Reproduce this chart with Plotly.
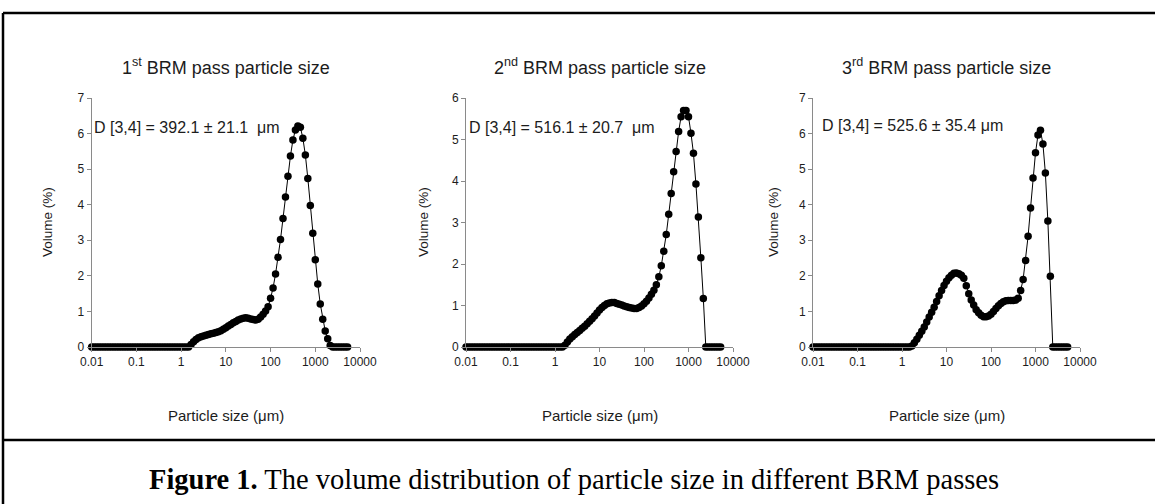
import plotly.graph_objects as go

# ---------------- data ----------------
SIZES_UM = [
    0.01, 0.01137, 0.01292, 0.01468, 0.01668, 0.01896, 0.02154, 0.02448, 0.02783, 0.03162,
    0.03594, 0.04084, 0.04642, 0.05275, 0.05995, 0.06813, 0.07743, 0.08799,
    0.1, 0.1137, 0.1292, 0.1468, 0.1668, 0.1896, 0.2154, 0.2448, 0.2783, 0.3162,
    0.3594, 0.4084, 0.4642, 0.5275, 0.5995, 0.6813, 0.7743, 0.8799,
    1.0, 1.137, 1.292, 1.468, 1.668, 1.896, 2.154, 2.448, 2.783, 3.162,
    3.594, 4.084, 4.642, 5.275, 5.995, 6.813, 7.743, 8.799,
    10.0, 11.37, 12.92, 14.68, 16.68, 18.96, 21.54, 24.48, 27.83, 31.62,
    35.94, 40.84, 46.42, 52.75, 59.95, 68.13, 77.43, 87.99,
    100, 113.7, 129.2, 146.8, 166.8, 189.6, 215.4, 244.8, 278.3, 316.2,
    359.4, 408.4, 464.2, 527.5, 599.5, 681.3, 774.3, 879.9,
    1000, 1137, 1292, 1468, 1668, 1896, 2154, 2448, 2783, 3162,
    3594, 4084, 4642, 5275,
]

VOL_PASS1 = [
    0, 0, 0, 0, 0, 0, 0, 0, 0, 0, 0, 0, 0, 0, 0, 0, 0, 0, 0, 0,
    0, 0, 0, 0, 0, 0, 0, 0, 0, 0, 0, 0, 0, 0, 0, 0, 0, 0, 0, 0,
    0.07, 0.15, 0.21, 0.26, 0.29, 0.31, 0.33, 0.35, 0.37, 0.39,
    0.41, 0.43, 0.46, 0.50, 0.54, 0.59, 0.63, 0.68, 0.72, 0.76,
    0.79, 0.81, 0.82, 0.81, 0.79, 0.77, 0.76, 0.78, 0.84, 0.92,
    1.01, 1.13, 1.37, 1.66, 2.05, 2.52, 3.02, 3.61, 4.22, 4.80,
    5.37, 5.82, 6.10, 6.21, 6.18, 5.87, 5.40, 4.74, 3.98, 3.20,
    2.45, 1.77, 1.21, 0.78, 0.45, 0.23, 0.04,
    0, 0, 0, 0, 0, 0, 0,
]

VOL_PASS2 = [
    0, 0, 0, 0, 0, 0, 0, 0, 0, 0, 0, 0, 0, 0, 0, 0, 0, 0, 0, 0,
    0, 0, 0, 0, 0, 0, 0, 0, 0, 0, 0, 0, 0, 0, 0, 0, 0, 0, 0, 0,
    0.04, 0.12, 0.19, 0.25, 0.30, 0.35, 0.40, 0.45, 0.50, 0.56,
    0.62, 0.68, 0.75, 0.82, 0.89, 0.95, 1.00, 1.04, 1.06, 1.07,
    1.07, 1.05, 1.03, 1.01, 0.99, 0.97, 0.95, 0.94, 0.93, 0.93,
    0.95, 0.99, 1.04, 1.10, 1.18, 1.27, 1.37, 1.50, 1.69, 1.96,
    2.31, 2.71, 3.20, 3.70, 4.22, 4.71, 5.19, 5.55, 5.70, 5.70,
    5.55, 5.15, 4.67, 3.93, 3.13, 2.15, 1.17,
    0, 0, 0, 0, 0, 0, 0,
]

VOL_PASS3 = [
    0, 0, 0, 0, 0, 0, 0, 0, 0, 0, 0, 0, 0, 0, 0, 0, 0, 0, 0, 0,
    0, 0, 0, 0, 0, 0, 0, 0, 0, 0, 0, 0, 0, 0, 0, 0, 0, 0, 0, 0,
    0.03, 0.12, 0.22, 0.33, 0.44, 0.56, 0.70, 0.84, 0.98, 1.12,
    1.28, 1.44, 1.59, 1.73, 1.85, 1.95, 2.02, 2.07, 2.08, 2.06,
    2.02, 1.93, 1.72, 1.50, 1.32, 1.18, 1.05, 0.96, 0.89, 0.85,
    0.85, 0.87, 0.92, 1.00, 1.08, 1.16, 1.22, 1.27, 1.30, 1.31,
    1.31, 1.31, 1.32, 1.37, 1.59, 1.90, 2.43, 3.11, 3.91, 4.75,
    5.46, 5.96, 6.09, 5.71, 4.89, 3.54, 1.99,
    0, 0, 0, 0, 0, 0, 0,
]

PANEL_TITLES = [
    "1<sup>st</sup> BRM pass particle size",
    "2<sup>nd</sup> BRM pass particle size",
    "3<sup>rd</sup> BRM pass particle size",
]
D34_LABELS = [
    "D [3,4] = 392.1 ± 21.1\u00a0\u00a0μm",
    "D [3,4] = 516.1 ± 20.7\u00a0\u00a0μm",
    "D [3,4] = 525.6 ± 35.4 μm",
]
Y_MAX = [7, 6, 7]
X_TICKS = [0.01, 0.1, 1, 10, 100, 1000, 10000]
X_TICK_TEXT = ["0.01", "0.1", "1", "10", "100", "1000", "10000"]
Y_TITLE = "Volume (%)"
X_TITLE = "Particle size (μm)"
CAPTION = "<b>Figure 1.</b> The volume distribution of particle size in different BRM passes"

# ---------------- layout helpers ----------------
W, H = 1155, 504


def px(x):
    return x / W


def py(y):
    return 1 - y / H


PANEL_X = [(91.7, 360.0), (466.0, 733.0), (813.0, 1080.0)]
PLOT_TOP, PLOT_BOTTOM = 98.0, 347.0
Y_TITLE_X = [47, 423, 773]
D_LABEL_X = [92, 467, 820]
D_LABEL_Y = [127, 127, 125]

AXIS_GRAY = "#8a8a8a"
TEXT = "#1c1c1c"
FONT = "Liberation Sans, Arial, sans-serif"

series = [VOL_PASS1, VOL_PASS2, VOL_PASS3]

fig = go.Figure()
layout = dict(
    width=W, height=H, autosize=False,
    margin=dict(l=0, r=0, t=0, b=0, pad=0, autoexpand=False),
    paper_bgcolor="white", plot_bgcolor="white",
    showlegend=False,
    font=dict(family=FONT, color=TEXT),
)
annotations = []

for k in range(3):
    idx = "" if k == 0 else str(k + 1)
    fig.add_trace(go.Scatter(
        x=SIZES_UM, y=series[k],
        mode="lines+markers",
        line=dict(color="black", width=1),
        marker=dict(color="black", size=7.5),
        cliponaxis=False,
        xaxis="x" + idx, yaxis="y" + idx,
    ))
    x0, x1 = PANEL_X[k]
    layout["xaxis" + idx] = dict(
        domain=[px(x0), px(x1)], type="log", range=[-2, 4],
        anchor="y" + idx, automargin=False,
        showline=True, linecolor=AXIS_GRAY, linewidth=1,
        ticks="outside", ticklen=4, tickcolor=AXIS_GRAY, tickwidth=1,
        tickvals=X_TICKS, ticktext=X_TICK_TEXT,
        tickfont=dict(size=12, family=FONT, color=TEXT),
        showgrid=False, zeroline=False, fixedrange=True,
    )
    layout["yaxis" + idx] = dict(
        domain=[py(PLOT_BOTTOM), py(PLOT_TOP)], range=[0, Y_MAX[k]],
        anchor="x" + idx, dtick=1, tick0=0, automargin=False,
        showline=True, linecolor=AXIS_GRAY, linewidth=1,
        ticks="outside", ticklen=4, tickcolor=AXIS_GRAY, tickwidth=1,
        tickfont=dict(size=12, family=FONT, color=TEXT),
        showgrid=False, zeroline=False, fixedrange=True,
    )
    cx = (x0 + x1) / 2
    annotations.append(dict(
        text=PANEL_TITLES[k], x=px(cx), y=py(67), xref="paper", yref="paper",
        showarrow=False, xanchor="center", yanchor="middle",
        font=dict(size=18, family=FONT, color=TEXT),
    ))
    annotations.append(dict(
        text=D34_LABELS[k], x=px(D_LABEL_X[k]), y=py(D_LABEL_Y[k]),
        xref="paper", yref="paper", showarrow=False,
        xanchor="left", yanchor="middle",
        font=dict(size=16, family=FONT, color=TEXT),
    ))
    annotations.append(dict(
        text=Y_TITLE, x=px(Y_TITLE_X[k]), y=py(222), xref="paper", yref="paper",
        showarrow=False, xanchor="center", yanchor="middle", textangle=-90,
        font=dict(size=13.5, family=FONT, color=TEXT),
    ))
    annotations.append(dict(
        text=X_TITLE, x=px(cx), y=py(415), xref="paper", yref="paper",
        showarrow=False, xanchor="center", yanchor="middle",
        font=dict(size=15, family=FONT, color=TEXT),
    ))

annotations.append(dict(
    text=CAPTION, x=px(574), y=py(479), xref="paper", yref="paper",
    showarrow=False, xanchor="center", yanchor="middle",
    font=dict(size=28.5, family="Liberation Serif, Times New Roman, serif", color="black"),
))

layout["annotations"] = annotations
layout["shapes"] = [
    dict(type="line", xref="paper", yref="paper", x0=px(3), x1=1, y0=py(13), y1=py(13),
         line=dict(color="black", width=2.5)),
    dict(type="line", xref="paper", yref="paper", x0=px(3), x1=px(3), y0=py(13), y1=0,
         line=dict(color="black", width=2.5)),
    dict(type="line", xref="paper", yref="paper", x0=px(3), x1=1, y0=py(440), y1=py(440),
         line=dict(color="black", width=2.5)),
]
fig.update_layout(**layout)

fig.write_html("out.html", config={"displayModeBar": False},
               post_script="document.body.style.margin='0';")
